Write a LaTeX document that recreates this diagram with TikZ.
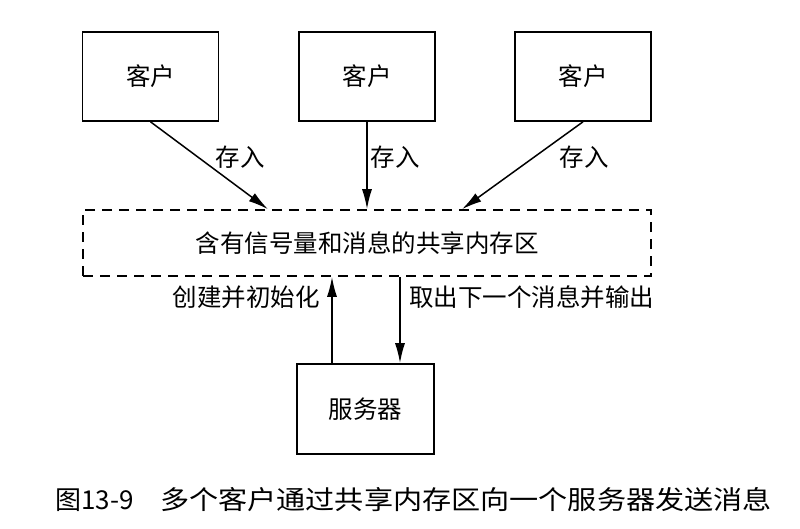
\documentclass[tikz,border=0pt]{standalone}
\usepackage{fontspec}
\usepackage{graphicx}
\newfontfamily\cjk{Noto Sans CJK SC}
\newcommand\txtfont{\cjk\fontsize{24.5}{28}\selectfont}
\newcommand\capfont{\cjk\fontsize{26}{30}\selectfont}
\usetikzlibrary{arrows.meta}
\begin{document}
\begin{tikzpicture}[x=1pt,y=-1pt,
  client/.style={draw,line width=1.6pt,minimum width=136pt,minimum height=89pt,inner sep=0pt,font=\txtfont},
  shared/.style={draw,line width=1.6pt,dash pattern=on 10pt off 7pt,minimum width=568pt,minimum height=66pt,inner sep=0pt,font=\txtfont},
  arr/.style={line width=1.5pt,-{Latex[length=20pt,width=10pt]}},
  lbl/.style={font=\txtfont,inner sep=0pt}]
\useasboundingbox (0,0) rectangle (800,528);
\fill[white] (0,0) rectangle (800,528);
% nodes
\node[client] (c1) at (150.5,76.5) {客户};
\node[client] (c2) at (367,76.5) {客户};
\node[client] (c3) at (583,76.5) {客户};
\node[shared] (s) at (367,243) {含有信号量和消息的共享内存区};
\node[client,minimum width=137pt,minimum height=90pt] (srv) at (365.5,409) {服务器};
% coordinates
\coordinate (t1) at (268,0);
\coordinate (t3) at (462,0);
\coordinate (u) at (332,0);
\coordinate (d) at (400,0);
% connectors
\draw[arr] (c1.south) -- (s.north -| t1);
\draw[arr] (c2.south) -- (s.north -| c2.south);
\draw[arr] (c3.south) -- (s.north -| t3);
\draw[arr] (srv.north -| u) -- (s.south -| u);
\draw[arr] (s.south -| d) -- (srv.north -| d);
% labels
\node[lbl] (l1) at (240,157) {存入};
\node[lbl] (l2) at (395,157) {存入};
\node[lbl] (l3) at (584,157) {存入};
\node[lbl,anchor=east] (l4) at (320,297) {创建并初始化};
\node[lbl,anchor=west] (l5) at (409,297) {取出下一个消息并输出};
% caption
\node[anchor=west,inner sep=0pt,font=\capfont] (cap1) at (55,500) {图13-9};
\node[anchor=west,inner sep=0pt,font=\capfont] (cap2) at (160,500) {\scalebox{1.12}[1]{多个客户通过共享内存区向一个服务器发送消息}};
\end{tikzpicture}
\end{document}
